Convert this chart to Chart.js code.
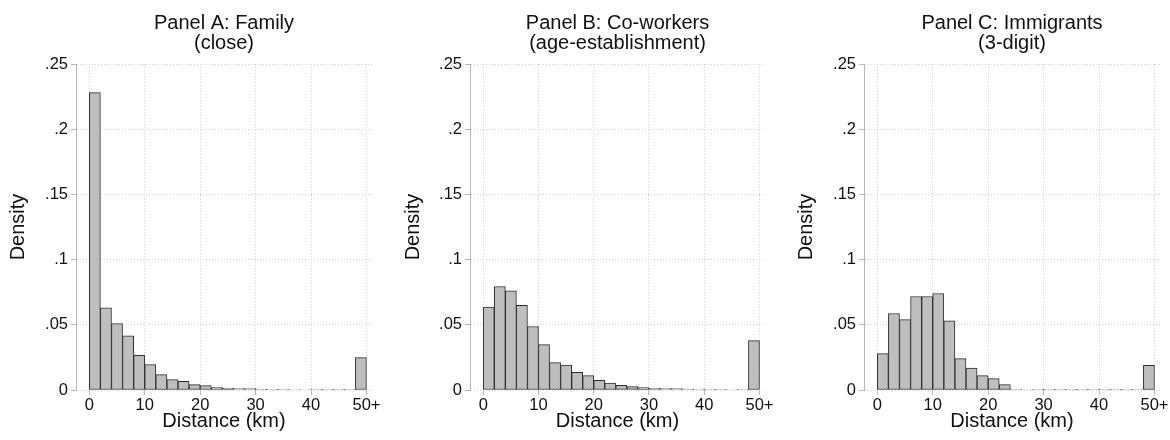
<!DOCTYPE html>
<html>
<head>
<meta charset="utf-8">
<script src="https://cdn.jsdelivr.net/npm/chart.js@4.4.1/dist/chart.umd.min.js"></script>
<style>
  body { margin: 0; background: #fff; }
  #wrap { position: relative; width: 1170px; height: 440px; }
  .panel { position: absolute; top: 0; width: 390px; height: 440px; }
</style>
</head>
<body>
<div id="wrap">
  <div class="panel" style="left:0px"><canvas id="panelA" width="390" height="440"></canvas></div>
  <div class="panel" style="left:390px"><canvas id="panelB" width="390" height="440"></canvas></div>
  <div class="panel" style="left:780px"><canvas id="panelC" width="390" height="440"></canvas></div>
</div>
<script>
// bin centres (2 km bins, last one is 50+)
const binCenters = [1, 3, 5, 7, 9, 11, 13, 15, 17, 19, 21, 23, 25, 27, 29, 31, 33, 35, 37, 39, 41, 43, 45, 47, 49];

const familyDensity = [0.228, 0.063, 0.051, 0.0415, 0.0265, 0.0195, 0.0118, 0.0079, 0.0067, 0.0041, 0.0033, 0.0018, 0.0015, 0.0010, 0.0010,
  0.0007, 0.0006, 0.0005, 0.0004, 0.0004, 0.0003, 0.0003, 0.0003, 0.0003, 0.0248];

const coworkerDensity = [0.0635, 0.0794, 0.076, 0.065, 0.0487, 0.0348, 0.021, 0.0192, 0.0136, 0.011, 0.0074, 0.0054, 0.0036, 0.0026, 0.0018,
  0.0013, 0.0010, 0.0010, 0.0007, 0.0006, 0.0005, 0.0006, 0.0004, 0.0003, 0.0379];

const immigrantDensity = [0.0279, 0.0587, 0.054, 0.0717, 0.0717, 0.074, 0.053, 0.024, 0.0169, 0.011, 0.0087, 0.0041, 0.0005, 0.0004, 0.0002,
  0.0003, 0.0003, 0.0001, 0.0001, 0.0001, 0.0003, 0.0001, 0.0001, 0.0001, 0.019];

const xTicks = [0, 10, 20, 30, 40, 50];
const xTickLabels = ['0', '10', '20', '30', '40', '50+'];
const yTicks = [0, 0.05, 0.1, 0.15, 0.2, 0.25];
const yTickLabels = ['0', '.05', '.1', '.15', '.2', '.25'];

const panels = [
  { id: 'panelA', title: ['Panel A: Family', '(close)'], values: familyDensity, left: 76, padRight: 18, yTitlePad: 6 },
  { id: 'panelB', title: ['Panel B: Co-workers', '(age-establishment)'], values: coworkerDensity, left: 80, padRight: 15, yTitlePad: 11 },
  { id: 'panelC', title: ['Panel C: Immigrants', '(3-digit)'], values: immigrantDensity, left: 84, padRight: 10, yTitlePad: 14 }
];

const font = 'Arial, "Liberation Sans", sans-serif';
const gridColor = '#cfcfcf';
const axisColor = '#b8b8b8';
const textColor = '#111';

Chart.defaults.font.family = font;
Chart.defaults.color = textColor;

panels.forEach(function (p) {
  const points = binCenters.map((x, i) => ({ x: x, y: p.values[i] }));

  new Chart(document.getElementById(p.id), {
    type: 'bar',
    data: {
      datasets: [{
        data: points,
        backgroundColor: '#bebebe',
        borderColor: '#2e2e2e',
        borderWidth: 1,
        borderSkipped: false,
        barPercentage: 1,
        categoryPercentage: 1
      }]
    },
    options: {
      responsive: false,
      devicePixelRatio: 1,
      animation: false,
      layout: { padding: { left: 0, right: p.padRight, top: 0, bottom: 0 } },
      plugins: {
        legend: { display: false },
        tooltip: { enabled: false },
        title: {
          display: true,
          fullSize: false,
          text: p.title,
          color: textColor,
          font: { size: 20, weight: 'normal', lineHeight: 1.0 },
          padding: { top: 13, bottom: 11 }
        }
      },
      scales: {
        x: {
          type: 'linear',
          min: -2.4,
          max: 51,
          offset: false,
          afterBuildTicks: function (s) { s.ticks = xTicks.map(v => ({ value: v })); },
          afterFit: function (s) { s.height = 50; },
          ticks: {
            autoSkip: false,
            maxRotation: 0,
            padding: 1,
            color: textColor,
            font: { size: 16.5 },
            callback: function (v) { return xTickLabels[xTicks.indexOf(v)]; }
          },
          grid: { offset: false, color: gridColor, tickColor: axisColor, tickLength: 5, tickBorderDash: [] },
          border: { display: false, dash: [1, 2] },
          title: {
            display: true,
            text: 'Distance (km)',
            color: textColor,
            font: { size: 20 },
            padding: { top: 0, bottom: 7 }
          }
        },
        y: {
          min: 0,
          max: 0.25,
          afterBuildTicks: function (s) { s.ticks = yTicks.map(v => ({ value: v })); },
          afterFit: function (s) { s.width = p.left; },
          ticks: {
            padding: 3,
            color: textColor,
            font: { size: 16.5 },
            callback: function (v) { return yTickLabels[yTicks.indexOf(v)]; }
          },
          grid: { color: gridColor, tickColor: axisColor, tickLength: 5, tickBorderDash: [] },
          border: { display: true, color: axisColor, width: 1, dash: [1, 2] },
          title: {
            display: true,
            text: 'Density',
            color: textColor,
            font: { size: 20 },
            padding: { top: p.yTitlePad, bottom: 0 }
          }
        }
      }
    }
  });
});
</script>
</body>
</html>
